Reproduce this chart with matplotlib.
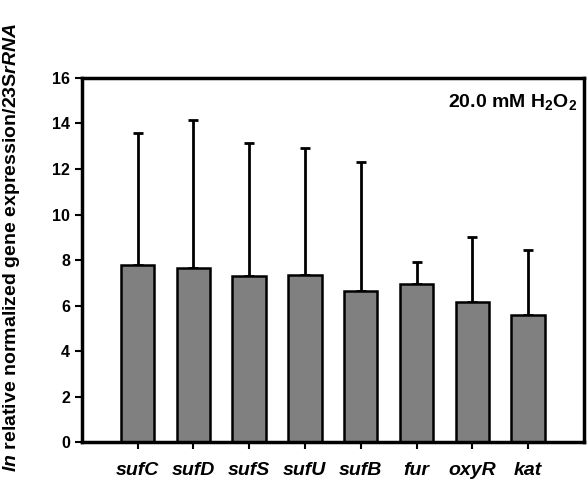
import matplotlib
matplotlib.use("Agg")
import matplotlib.pyplot as plt
import numpy as np

# gene names and values
genes = ["sufC", "sufD", "sufS", "sufU", "sufB", "fur", "oxyR", "kat"]
means = [7.8, 7.65, 7.3, 7.35, 6.65, 6.95, 6.15, 5.6]
upper = [13.6, 14.15, 13.15, 12.9, 12.3, 7.9, 9.0, 8.45]
errors = [u - m for u, m in zip(upper, means)]

plt.rcParams["font.family"] = ["Liberation Sans", "DejaVu Sans"]
plt.rcParams["font.weight"] = "bold"
plt.rcParams["mathtext.fontset"] = "custom"
plt.rcParams["mathtext.rm"] = "Liberation Sans:bold"
plt.rcParams["mathtext.bf"] = "Liberation Sans:bold"
plt.rcParams["mathtext.it"] = "Liberation Sans:italic:bold"
plt.rcParams["mathtext.bfit"] = "Liberation Sans:italic:bold"

fig = plt.figure(figsize=(5.88, 4.87), dpi=100)
ax = fig.add_axes([0.139, 0.092, 0.854, 0.748])

x = np.arange(len(genes))
ax.bar(x, means, width=0.6, color="#808080", edgecolor="black", linewidth=1.8,
       zorder=2)
ax.errorbar(x, means, yerr=[np.zeros(len(errors)), errors], fmt="none",
            ecolor="black", elinewidth=2, capsize=3.8, capthick=2, zorder=1)

ax.set_xlim(-1, 8)
ax.set_ylim(0, 16)
ax.set_yticks(range(0, 17, 2))
ax.set_xticks(x)
ax.set_xticklabels(genes, fontsize=14, fontstyle="italic", fontweight="bold")
ax.tick_params(axis="y", labelsize=11.5, width=1.5, length=5)
ax.tick_params(axis="x", width=1.5, length=5, pad=9)
for lab in ax.get_yticklabels():
    lab.set_fontweight("bold")

for s in ax.spines.values():
    s.set_linewidth(2.5)

ax.set_ylabel(r"$\mathit{ln}$ relative normalized gene expression/23S$\mathit{rRNA}$",
              fontsize=14, fontweight="bold")
ax.yaxis.set_label_coords(-0.118, 0.535)

ax.text(0.987, 0.96, r"20.0 mM H$_\mathbf{2}$O$_\mathbf{2}$", transform=ax.transAxes,
        ha="right", va="top", fontsize=14, fontweight="bold")

fig.savefig("out.png", dpi=100)
